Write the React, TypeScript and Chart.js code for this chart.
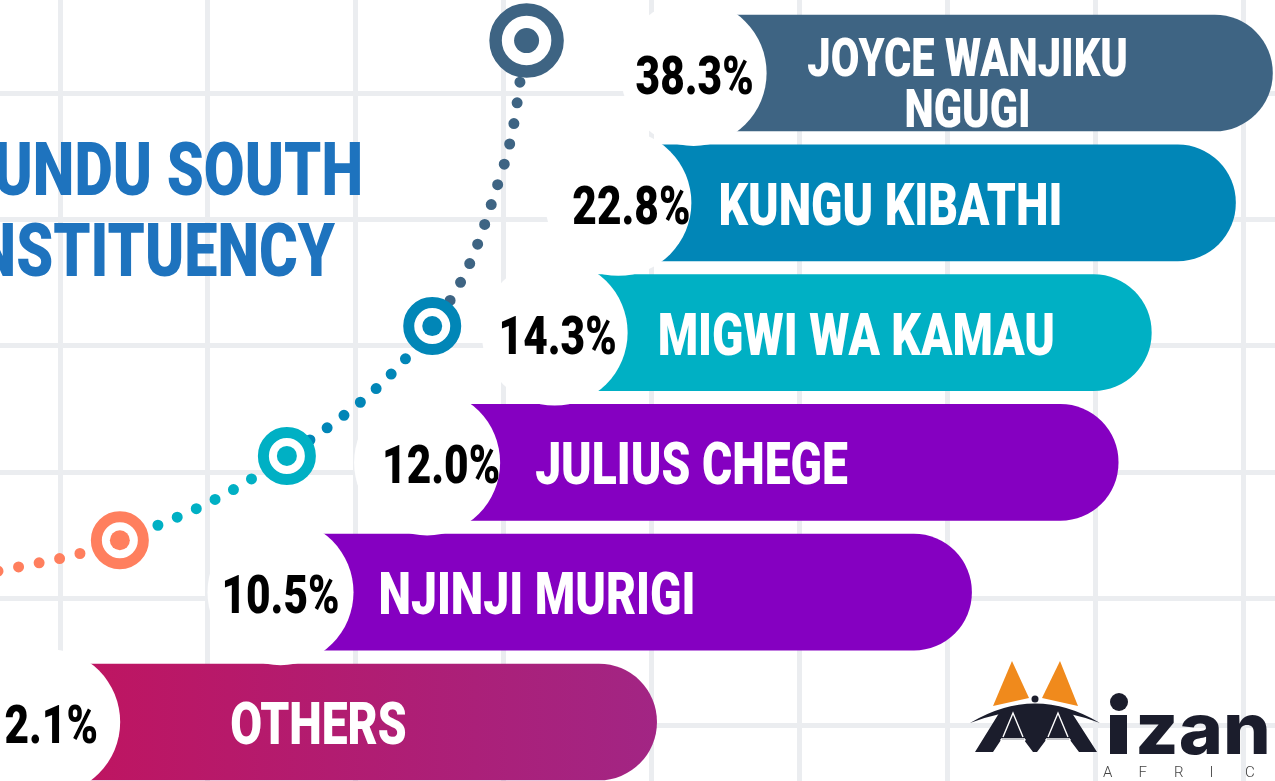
import { useEffect, useRef } from "react";
import { Chart, registerables } from "chart.js";

Chart.register(...registerables);

// ---------------- data ----------------
const candidates = ["JOYCE WANJIKU NGUGI", "KUNGU KIBATHI", "MIGWI WA KAMAU", "JULIUS CHEGE", "NJINJI MURIGI", "OTHERS"];
const nameLines = [["JOYCE WANJIKU", "NGUGI"], ["KUNGU KIBATHI"], ["MIGWI WA KAMAU"], ["JULIUS CHEGE"], ["NJINJI MURIGI"], ["OTHERS"]];
const voteShare = [38.3, 22.8, 14.3, 12.0, 10.5, 2.1];
// floating bar extents on the (hidden) horizontal axis, 0–100 units
const barStart = [54.4, 48.5, 43.5, 33.5, 22.0, 3.7];
const barEnd = [99.8, 96.9, 90.3, 87.7, 76.2, 51.5];
// decorative dotted trail (x in axis units, y in row units)
const trailX = [41.3, 39.3, 33.9, 22.5, 9.4, -2.0];
const trailY = [-0.25, 0.78, 1.95, 2.95, 3.6, 3.88];
const markerPoints = [0, 2, 3, 4];
const titleLines = ["GATUNDU SOUTH", "CONSTITUENCY"];

// ---------------- styles ----------------
const BAR_COLORS = ["#3e6483", "#0186b7", "#00b0c4", "#8500c1", "#8500c1", "#c0145f"];
const OTHERS_GRADIENT = ["#c0145f", "#a22584"];
const MARKER_COLORS = ["#3e6483", "#0186b7", "#00b0c4", "#ff7f5e"];
const TRAIL_COLORS = ["#3e6483", "#3e6483", "#0186b7", "#00b0c4", "#ff7f5e", "#ff7f5e"];
const TITLE_COLOR = "#1e73be";
const GRID_COLOR = "#ebedf0";
const NAME_OFFSET = [274, 100, 103, 108, 98, 183];
const PCT_OFFSET = [1, 13, 3, 14, 0, 4];
const FONT = "Roboto";

function scaledText(ctx: CanvasRenderingContext2D, text: string, x: number, y: number, size: number, weight: number | string, sx: number, align: CanvasTextAlign, color: string, family = FONT) {
  ctx.save();
  ctx.translate(x, y);
  ctx.scale(sx, 1);
  ctx.font = `${weight} ${size}px ${family}`;
  ctx.textAlign = align;
  ctx.textBaseline = "alphabetic";
  ctx.fillStyle = color;
  ctx.fillText(text, 0, 0);
  ctx.restore();
}

function drawLogo(ctx: CanvasRenderingContext2D) {
  ctx.save();
  // orange peaks
  ctx.fillStyle = "#f08a1c";
  ctx.beginPath();
  ctx.moveTo(993, 706); ctx.lineTo(1012, 661); ctx.lineTo(1029, 698); ctx.closePath(); ctx.fill();
  ctx.beginPath();
  ctx.moveTo(1042, 698); ctx.lineTo(1060, 661); ctx.lineTo(1078, 706); ctx.closePath(); ctx.fill();
  const dark = "#1b1d2c";
  ctx.fillStyle = dark;
  // dome crescent
  ctx.beginPath();
  ctx.moveTo(970, 723);
  ctx.quadraticCurveTo(1035, 684, 1100, 723);
  ctx.quadraticCurveTo(1035, 698, 970, 723);
  ctx.closePath();
  ctx.fill();
  ctx.beginPath(); ctx.arc(1035, 699, 3.5, 0, Math.PI * 2); ctx.fill();
  // M body
  ctx.beginPath();
  ctx.moveTo(975, 752); ctx.lineTo(1001, 710); ctx.quadraticCurveTo(1035, 702, 1070, 710);
  ctx.lineTo(1097, 752); ctx.lineTo(1079, 752); ctx.lineTo(1070, 740); ctx.lineTo(1046, 740);
  ctx.lineTo(1037, 752); ctx.lineTo(1033, 752); ctx.lineTo(1024, 740); ctx.lineTo(1001, 740);
  ctx.lineTo(993, 752); ctx.closePath(); ctx.fill();
  // scale line art
  ctx.strokeStyle = "#ffffff";
  ctx.lineWidth = 1.4;
  [1013, 1058].forEach((cx) => {
    ctx.beginPath();
    ctx.moveTo(cx - 10, 737); ctx.lineTo(cx, 713); ctx.lineTo(cx + 10, 737);
    ctx.moveTo(cx - 12, 739); ctx.lineTo(cx + 12, 739);
    ctx.stroke();
    ctx.beginPath(); ctx.ellipse(cx, 739, 12, 7, 0, 0, Math.PI); ctx.stroke();
  });
  // wordmark
  ctx.fillStyle = dark;
  ctx.fillRect(1110, 715, 17, 39);
  ctx.beginPath(); ctx.arc(1119, 702, 9, 0, Math.PI * 2); ctx.fill();
  scaledText(ctx, "zan", 1135, 754, 71, 800, 1.06, "left", dark, "Inter");
  ctx.fillStyle = "#444444";
  ctx.font = `300 15px ${FONT}`;
  ctx.textAlign = "left";
  ["A", "F", "R", "I", "C"].forEach((ch, k) => ctx.fillText(ch, 1103 + k * 35.5, 777));
  ctx.restore();
}

const labelsPlugin = {
  id: "infographicLabels",
  afterDatasetsDraw(chart: any) {
    const ctx: CanvasRenderingContext2D = chart.ctx;
    const xs = chart.scales.x;
    const ys = chart.scales.y;
    scaledText(ctx, titleLines[0], 363, 195, 74, 900, 0.8, "right", TITLE_COLOR);
    scaledText(ctx, titleLines[1], 335, 276, 74, 900, 0.8, "right", TITLE_COLOR);
    candidates.forEach((_, i) => {
      const cx = xs.getPixelForValue(barStart[i]);
      const cy = ys.getPixelForValue(i);
      scaledText(ctx, voteShare[i].toFixed(1) + "%", cx + PCT_OFFSET[i], cy + 21, 53, 900, 0.8, "center", "#000000");
      const lines = nameLines[i];
      if (lines.length === 2) {
        scaledText(ctx, lines[0], cx + NAME_OFFSET[i], cy + 3, 54, 900, 0.77, "center", "#ffffff");
        scaledText(ctx, lines[1], cx + NAME_OFFSET[i], cy + 54, 54, 900, 0.77, "center", "#ffffff");
      } else {
        scaledText(ctx, lines[0], cx + NAME_OFFSET[i], cy + 22, 60, 900, 0.77, "left", "#ffffff");
      }
    });
  },
  afterDraw(chart: any) {
    drawLogo(chart.ctx);
  },
};

export default function App() {
  const ref = useRef<HTMLCanvasElement>(null);
  useEffect(() => {
    document.body.style.margin = "0";
    const canvas = ref.current!;
    const rows = candidates.map((_, i) => i);
    const markerData = markerPoints.map((k) => ({ x: trailX[k], y: trailY[k] }));
    const hiddenGrid = { offset: false, color: GRID_COLOR, lineWidth: 5, drawTicks: false };
    const chart = new Chart(canvas, {
      type: "bar",
      data: {
        labels: candidates,
        datasets: [
          {
            type: "line",
            label: "marker centres",
            data: markerData,
            showLine: false,
            pointRadius: [12.5, 10, 10, 10],
            pointBorderWidth: 0,
            pointBackgroundColor: MARKER_COLORS,
            order: 1,
          } as any,
          {
            type: "line",
            label: "markers",
            data: markerData,
            showLine: false,
            pointRadius: [31, 23.5, 23.5, 23.5],
            pointBorderWidth: [12.5, 11, 11, 11],
            pointBackgroundColor: "#ffffff",
            pointBorderColor: MARKER_COLORS,
            order: 2,
          } as any,
          {
            type: "line",
            label: "trail",
            data: trailX.map((x, k) => ({ x, y: trailY[k] })),
            pointRadius: 0,
            borderWidth: 11,
            borderDash: [0, 21],
            borderCapStyle: "round",
            borderColor: TRAIL_COLORS[0],
            tension: 0.4,
            fill: false,
            segment: { borderColor: (c: any) => TRAIL_COLORS[c.p0DataIndex] },
            order: 3,
          } as any,
          {
            type: "line",
            label: "share discs",
            data: rows.map((i) => ({ x: barStart[i], y: i })),
            showLine: false,
            pointRadius: 73,
            pointBorderWidth: 0,
            pointBackgroundColor: "#ffffff",
            order: 4,
          } as any,
          {
            type: "bar",
            label: "Vote share",
            indexAxis: "y",
            data: rows.map((i) => ({ x: [barStart[i], barEnd[i]], y: i })),
            barThickness: 116,
            borderWidth: 0,
            borderSkipped: false,
            borderRadius: { topLeft: 0, bottomLeft: 0, topRight: 58, bottomRight: 58 },
            backgroundColor: (c: any) => {
              const i = c.dataIndex ?? 0;
              if (i !== 5) return BAR_COLORS[i];
              const ch = c.chart;
              if (!ch.chartArea) return BAR_COLORS[5];
              const xs = ch.scales.x;
              const g = ch.ctx.createLinearGradient(xs.getPixelForValue(barStart[5]), 0, xs.getPixelForValue(barEnd[5]), 0);
              g.addColorStop(0, OTHERS_GRADIENT[0]);
              g.addColorStop(1, OTHERS_GRADIENT[1]);
              return g;
            },
            order: 5,
          } as any,
        ],
      },
      options: {
        responsive: false,
        animation: false,
        devicePixelRatio: 1,
        events: [],
        layout: { padding: 0, autoPadding: false },
        plugins: { legend: { display: false }, tooltip: { enabled: false } },
        scales: {
          x: { type: "linear", min: 0, max: 100, offset: false, display: false, grid: { offset: false } },
          y: { type: "linear", min: -0.5624, max: 5.4546, reverse: true, offset: false, display: false, grid: { offset: false } },
          gridX: {
            type: "linear",
            axis: "x",
            position: "bottom",
            offset: false,
            min: -0.4057,
            max: 8.215,
            border: { display: false },
            grid: hiddenGrid,
            ticks: { display: false, stepSize: 1, includeBounds: false },
            afterFit: (s: any) => { s.height = 0; },
          },
          gridY: {
            type: "linear",
            axis: "y",
            position: "left",
            reverse: true,
            offset: false,
            min: -0.7358,
            max: 5.443,
            border: { display: false },
            grid: hiddenGrid,
            ticks: { display: false, stepSize: 1, includeBounds: false },
            afterFit: (s: any) => { s.width = 0; },
          },
        } as any,
      },
      plugins: [labelsPlugin],
    });
    return () => chart.destroy();
  }, []);

  return (
    <div style={{ position: "fixed", left: 0, top: 0, width: 1275, height: 781, background: "#ffffff", overflow: "hidden" }}>
      <canvas ref={ref} width={1275} height={781} style={{ width: 1275, height: 781, display: "block" }} />
    </div>
  );
}
